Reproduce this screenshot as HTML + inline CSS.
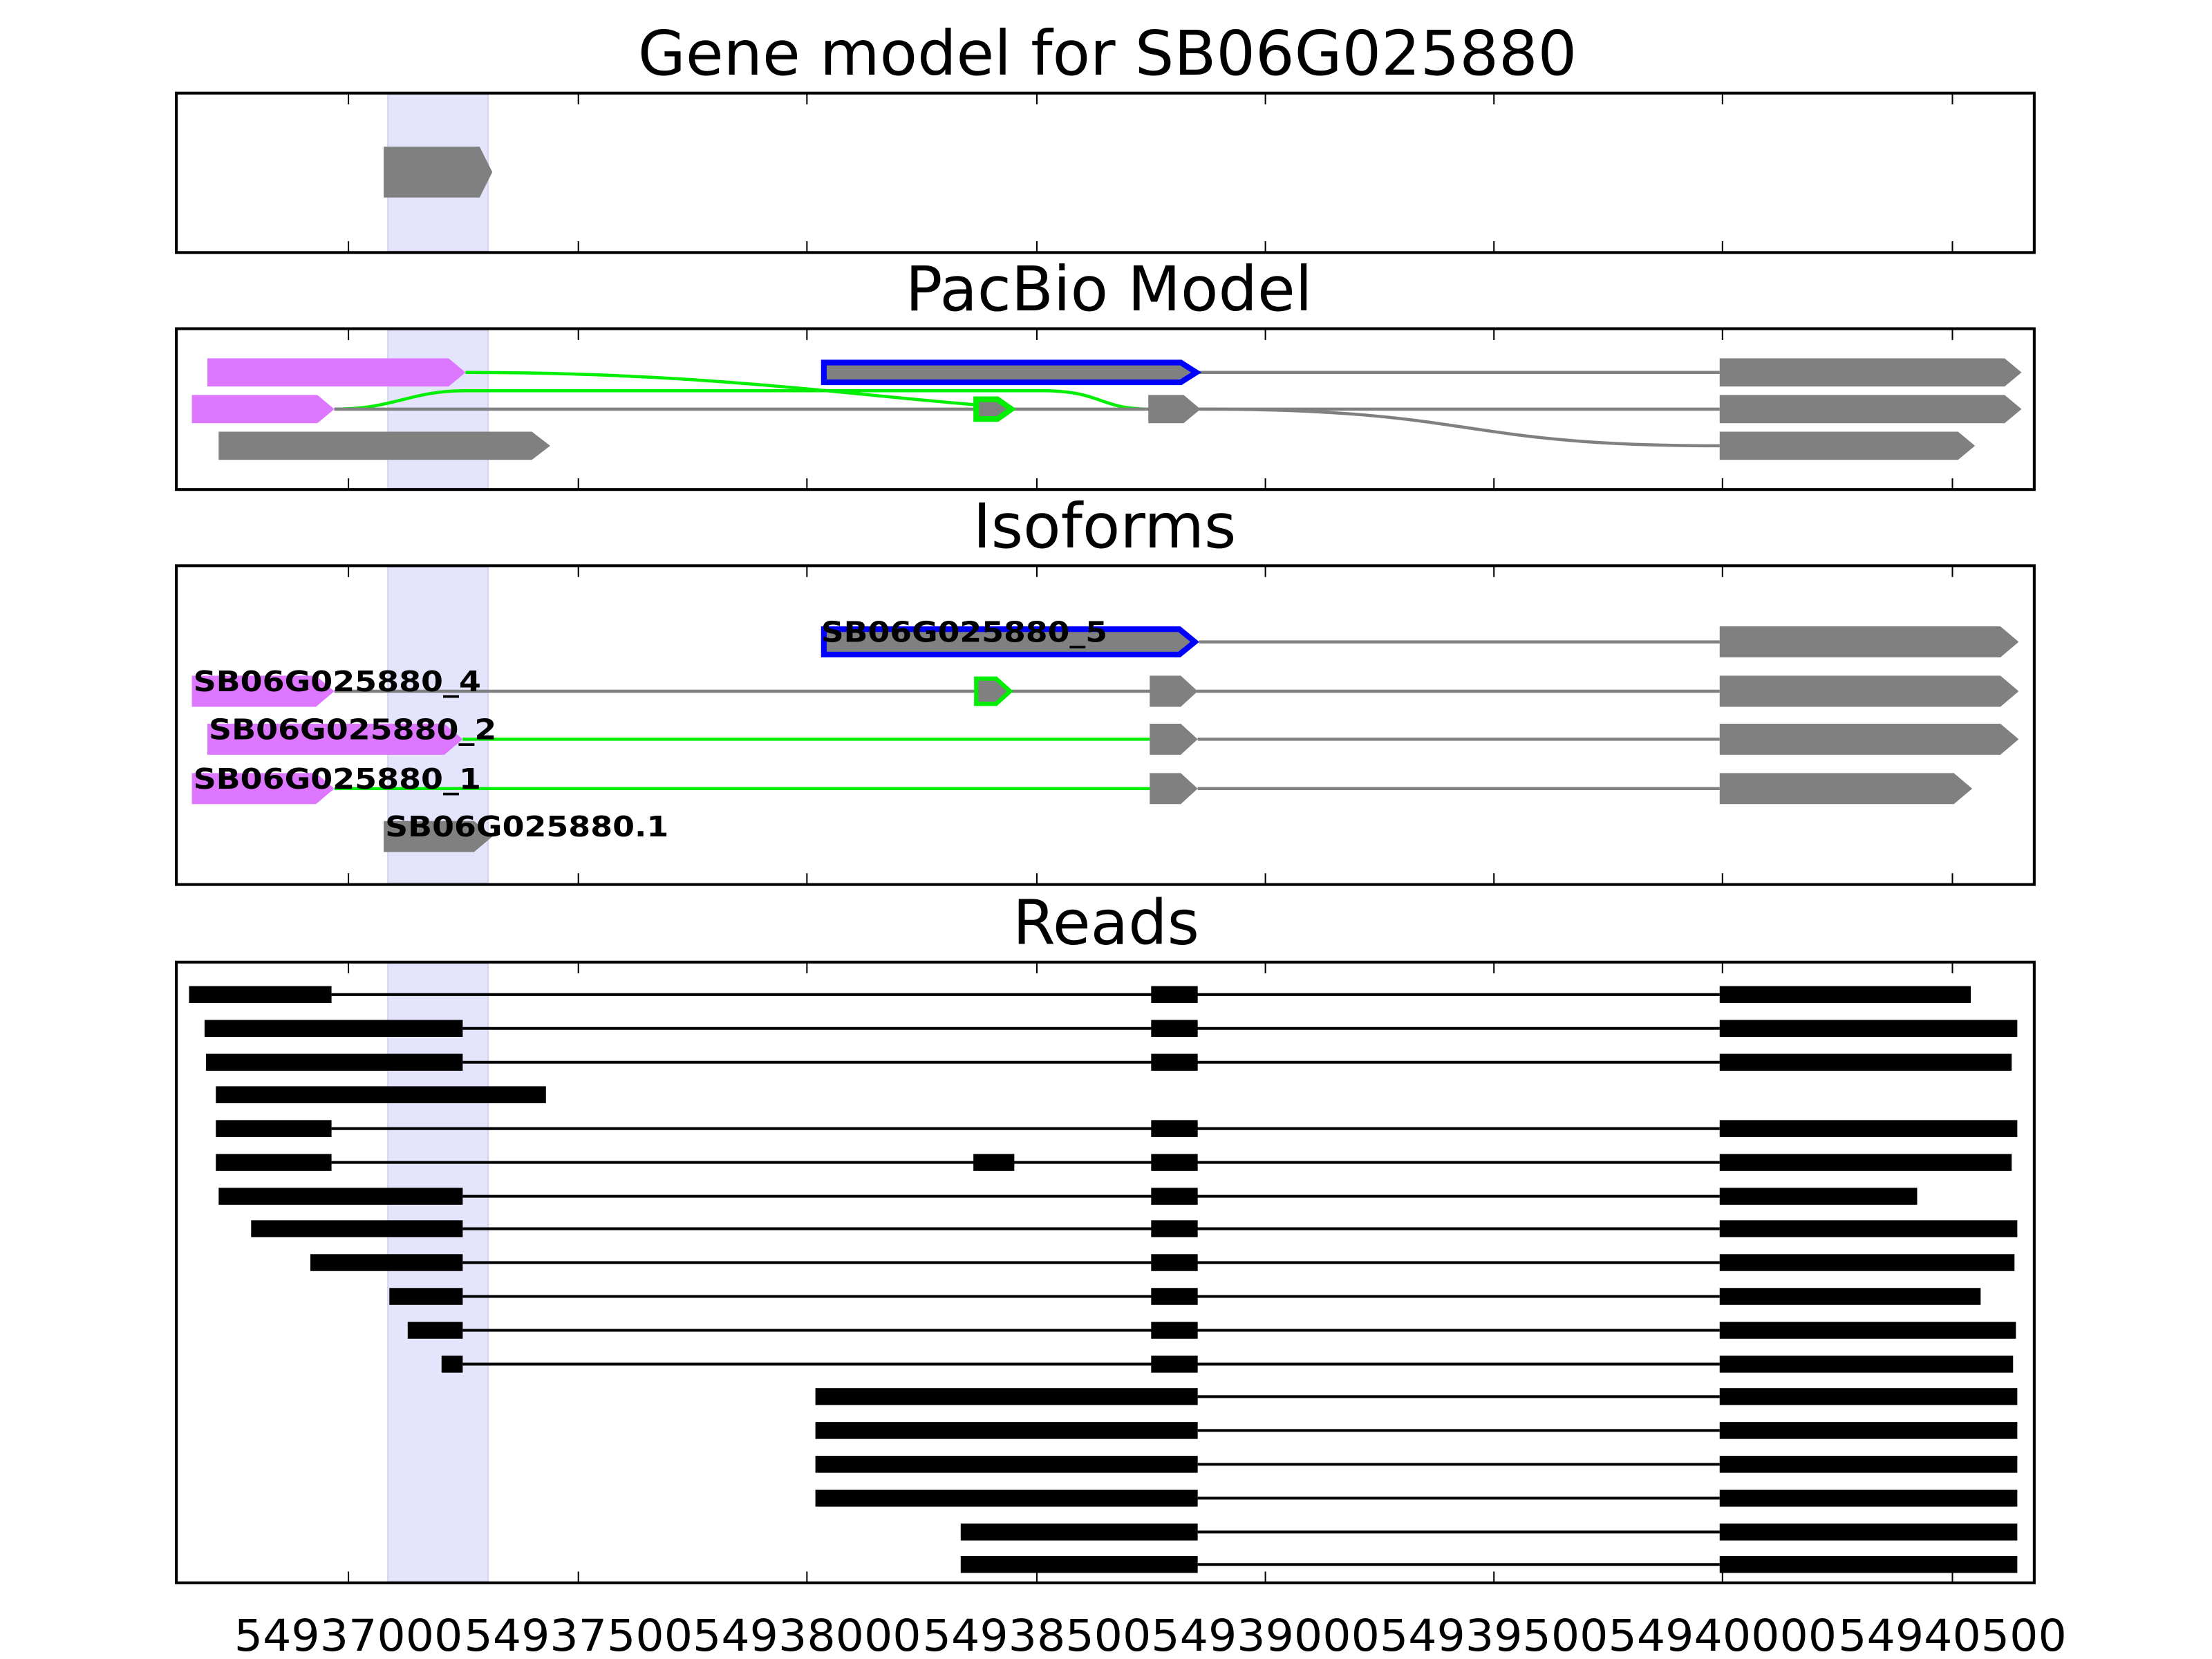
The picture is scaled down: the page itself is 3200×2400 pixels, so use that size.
<!DOCTYPE html>
<html><head><meta charset="utf-8"><style>html,body{margin:0;padding:0;background:#fff}svg{display:block}</style></head>
<body>
<svg xmlns="http://www.w3.org/2000/svg" width="3200" height="2400" viewBox="0 0 1568 1176">
<rect width="1568" height="1176" fill="#fff"/>
<g font-family="DejaVu Sans, Liberation Sans, sans-serif" text-anchor="middle" font-size="43.6" fill="#000">
<text x="785" y="53">Gene model for SB06G025880</text>
<text x="786" y="220">PacBio Model</text>
<text x="783" y="388">Isoforms</text>
<text x="784" y="669">Reads</text>
</g>
<!-- bands -->
<g fill="#e4e4fc" stroke="#d4d4ec" stroke-width="1">
<rect x="275" y="67" width="71" height="111"/>
<rect x="275" y="234" width="71" height="112"/>
<rect x="275" y="402" width="71" height="224"/>
<rect x="275" y="683" width="71" height="438"/>
</g>
<!-- panel 1 -->
<polygon points="272,104 340,104 349,122 340,140 272,140" fill="#808080"/>
<!-- panel 2 -->
<g fill="none" stroke-width="2.2">
<path d="M330,264 C500,264 600,280 705,288" stroke="#00ee00"/>
<path d="M237,290 C280,290 290,277 330,277 L740,277 C780,277 780,290 814,290" stroke="#00ee00"/>
<line x1="850" y1="264" x2="1219" y2="264" stroke="#808080"/>
<line x1="237" y1="290" x2="1219" y2="290" stroke="#808080"/>
<path d="M851,290 C1050,290 1030,316 1219,316" stroke="#808080"/>
</g>
<polygon points="147,254 318,254 330,264 318,274 147,274" fill="#dd77ff"/>
<polygon points="136,280 225,280 237,290 225,300 136,300" fill="#dd77ff"/>
<polygon points="155,306 377,306 390,316 377,326 155,326" fill="#808080"/>
<polygon points="584,257 837,257 848,264 837,271 584,271" fill="#808080" stroke="#0000ff" stroke-width="4"/>
<polygon points="692,283 707,283 717,290 707,297 692,297" fill="#808080" stroke="#00ee00" stroke-width="4"/>
<polygon points="814,280 839,280 851,290 839,300 814,300" fill="#808080"/>
<polygon points="1219,254 1421,254 1433,264 1421,274 1219,274" fill="#808080"/>
<polygon points="1219,280 1421,280 1433,290 1421,300 1219,300" fill="#808080"/>
<polygon points="1219,306 1388,306 1400,316 1388,326 1219,326" fill="#808080"/>
<!-- panel 3 -->
<g stroke-width="2.2">
<line x1="850" y1="455" x2="1219" y2="455" stroke="#808080"/>
<line x1="237" y1="490" x2="1219" y2="490" stroke="#808080"/>
<line x1="328" y1="524" x2="815" y2="524" stroke="#00ee00"/>
<line x1="849" y1="524" x2="1219" y2="524" stroke="#808080"/>
<line x1="237" y1="559" x2="815" y2="559" stroke="#00ee00"/>
<line x1="849" y1="559" x2="1219" y2="559" stroke="#808080"/>
</g>
<polygon points="584,446 836,446 847,455 836,464 584,464" fill="#808080" stroke="#0000ff" stroke-width="4"/>
<polygon points="1219,444 1418,444 1431,455 1418,466 1219,466" fill="#808080"/>
<polygon points="136,479 224,479 237,490 224,501 136,501" fill="#dd77ff"/>
<polygon points="692,481 706,481 716,490 706,499 692,499" fill="#808080" stroke="#00ee00" stroke-width="3"/>
<polygon points="815,479 837,479 849,490 837,501 815,501" fill="#808080"/>
<polygon points="1219,479 1418,479 1431,490 1418,501 1219,501" fill="#808080"/>
<polygon points="147,513 315,513 328,524 315,535 147,535" fill="#dd77ff"/>
<polygon points="815,513 837,513 849,524 837,535 815,535" fill="#808080"/>
<polygon points="1219,513 1418,513 1431,524 1418,535 1219,535" fill="#808080"/>
<polygon points="136,548 224,548 237,559 224,570 136,570" fill="#dd77ff"/>
<polygon points="815,548 837,548 849,559 837,570 815,570" fill="#808080"/>
<polygon points="1219,548 1385,548 1398,559 1385,570 1219,570" fill="#808080"/>
<polygon points="272,582 336,582 349,593 336,604 272,604" fill="#808080"/>
<g font-family="DejaVu Sans, Liberation Sans, sans-serif" font-weight="bold" font-size="20" fill="#000">
<text x="582" y="455" textLength="203" lengthAdjust="spacingAndGlyphs">SB06G025880_5</text>
<text x="137" y="490" textLength="204" lengthAdjust="spacingAndGlyphs">SB06G025880_4</text>
<text x="148" y="524" textLength="204" lengthAdjust="spacingAndGlyphs">SB06G025880_2</text>
<text x="137" y="559" textLength="204" lengthAdjust="spacingAndGlyphs">SB06G025880_1</text>
<text x="273" y="593" textLength="201" lengthAdjust="spacingAndGlyphs">SB06G025880.1</text>
</g>
<!-- panel 4 reads -->
<g stroke="#000" stroke-width="2">
<line x1="235" y1="705" x2="1219" y2="705"/>
<line x1="328" y1="729" x2="1219" y2="729"/>
<line x1="328" y1="753" x2="1219" y2="753"/>
<line x1="235" y1="800" x2="1219" y2="800"/>
<line x1="235" y1="824" x2="1219" y2="824"/>
<line x1="328" y1="848" x2="1219" y2="848"/>
<line x1="328" y1="871" x2="1219" y2="871"/>
<line x1="328" y1="895" x2="1219" y2="895"/>
<line x1="328" y1="919" x2="1219" y2="919"/>
<line x1="328" y1="943" x2="1219" y2="943"/>
<line x1="328" y1="967" x2="1219" y2="967"/>
<line x1="849" y1="990" x2="1219" y2="990"/>
<line x1="849" y1="1014" x2="1219" y2="1014"/>
<line x1="849" y1="1038" x2="1219" y2="1038"/>
<line x1="849" y1="1062" x2="1219" y2="1062"/>
<line x1="849" y1="1086" x2="1219" y2="1086"/>
<line x1="849" y1="1109" x2="1219" y2="1109"/>
</g>
<g fill="#000">
<rect x="134" y="699" width="101" height="12"/><rect x="816" y="699" width="33" height="12"/><rect x="1219" y="699" width="178" height="12"/>
<rect x="145" y="723" width="183" height="12"/><rect x="816" y="723" width="33" height="12"/><rect x="1219" y="723" width="211" height="12"/>
<rect x="146" y="747" width="182" height="12"/><rect x="816" y="747" width="33" height="12"/><rect x="1219" y="747" width="207" height="12"/>
<rect x="153" y="770" width="234" height="12"/>
<rect x="153" y="794" width="82" height="12"/><rect x="816" y="794" width="33" height="12"/><rect x="1219" y="794" width="211" height="12"/>
<rect x="153" y="818" width="82" height="12"/><rect x="690" y="818" width="29" height="12"/><rect x="816" y="818" width="33" height="12"/><rect x="1219" y="818" width="207" height="12"/>
<rect x="155" y="842" width="173" height="12"/><rect x="816" y="842" width="33" height="12"/><rect x="1219" y="842" width="140" height="12"/>
<rect x="178" y="865" width="150" height="12"/><rect x="816" y="865" width="33" height="12"/><rect x="1219" y="865" width="211" height="12"/>
<rect x="220" y="889" width="108" height="12"/><rect x="816" y="889" width="33" height="12"/><rect x="1219" y="889" width="209" height="12"/>
<rect x="276" y="913" width="52" height="12"/><rect x="816" y="913" width="33" height="12"/><rect x="1219" y="913" width="185" height="12"/>
<rect x="289" y="937" width="39" height="12"/><rect x="816" y="937" width="33" height="12"/><rect x="1219" y="937" width="210" height="12"/>
<rect x="313" y="961" width="15" height="12"/><rect x="816" y="961" width="33" height="12"/><rect x="1219" y="961" width="208" height="12"/>
<rect x="578" y="984" width="271" height="12"/><rect x="1219" y="984" width="211" height="12"/>
<rect x="578" y="1008" width="271" height="12"/><rect x="1219" y="1008" width="211" height="12"/>
<rect x="578" y="1032" width="271" height="12"/><rect x="1219" y="1032" width="211" height="12"/>
<rect x="578" y="1056" width="271" height="12"/><rect x="1219" y="1056" width="211" height="12"/>
<rect x="681" y="1080" width="168" height="12"/><rect x="1219" y="1080" width="211" height="12"/>
<rect x="681" y="1103" width="168" height="12"/><rect x="1219" y="1103" width="211" height="12"/>
</g>
<!-- axes frames -->
<g fill="none" stroke="#000" stroke-width="2">
<rect x="125" y="66" width="1317" height="113"/>
<rect x="125" y="233" width="1317" height="114"/>
<rect x="125" y="401" width="1317" height="226"/>
<rect x="125" y="682" width="1317" height="440"/>
</g>
<!-- ticks -->
<g stroke="#000" stroke-width="1">
<path d="M247,66v8M410,66v8M572,66v8M735,66v8M897,66v8M1059,66v8M1221,66v8M1384,66v8
M247,179v-8M410,179v-8M572,179v-8M735,179v-8M897,179v-8M1059,179v-8M1221,179v-8M1384,179v-8
M247,233v8M410,233v8M572,233v8M735,233v8M897,233v8M1059,233v8M1221,233v8M1384,233v8
M247,347v-8M410,347v-8M572,347v-8M735,347v-8M897,347v-8M1059,347v-8M1221,347v-8M1384,347v-8
M247,401v8M410,401v8M572,401v8M735,401v8M897,401v8M1059,401v8M1221,401v8M1384,401v8
M247,627v-8M410,627v-8M572,627v-8M735,627v-8M897,627v-8M1059,627v-8M1221,627v-8M1384,627v-8
M247,682v8M410,682v8M572,682v8M735,682v8M897,682v8M1059,682v8M1221,682v8M1384,682v8
M247,1122v-8M410,1122v-8M572,1122v-8M735,1122v-8M897,1122v-8M1059,1122v-8M1221,1122v-8M1384,1122v-8"/>
</g>
<g font-family="DejaVu Sans, Liberation Sans, sans-serif" font-size="31" fill="#000" text-anchor="middle">
<text x="247" y="1170" textLength="162" lengthAdjust="spacingAndGlyphs">54937000</text>
<text x="410" y="1170" textLength="162" lengthAdjust="spacingAndGlyphs">54937500</text>
<text x="572" y="1170" textLength="162" lengthAdjust="spacingAndGlyphs">54938000</text>
<text x="735" y="1170" textLength="162" lengthAdjust="spacingAndGlyphs">54938500</text>
<text x="897" y="1170" textLength="162" lengthAdjust="spacingAndGlyphs">54939000</text>
<text x="1059" y="1170" textLength="162" lengthAdjust="spacingAndGlyphs">54939500</text>
<text x="1221" y="1170" textLength="162" lengthAdjust="spacingAndGlyphs">54940000</text>
<text x="1384" y="1170" textLength="162" lengthAdjust="spacingAndGlyphs">54940500</text>
</g>
</svg>
</body></html>
